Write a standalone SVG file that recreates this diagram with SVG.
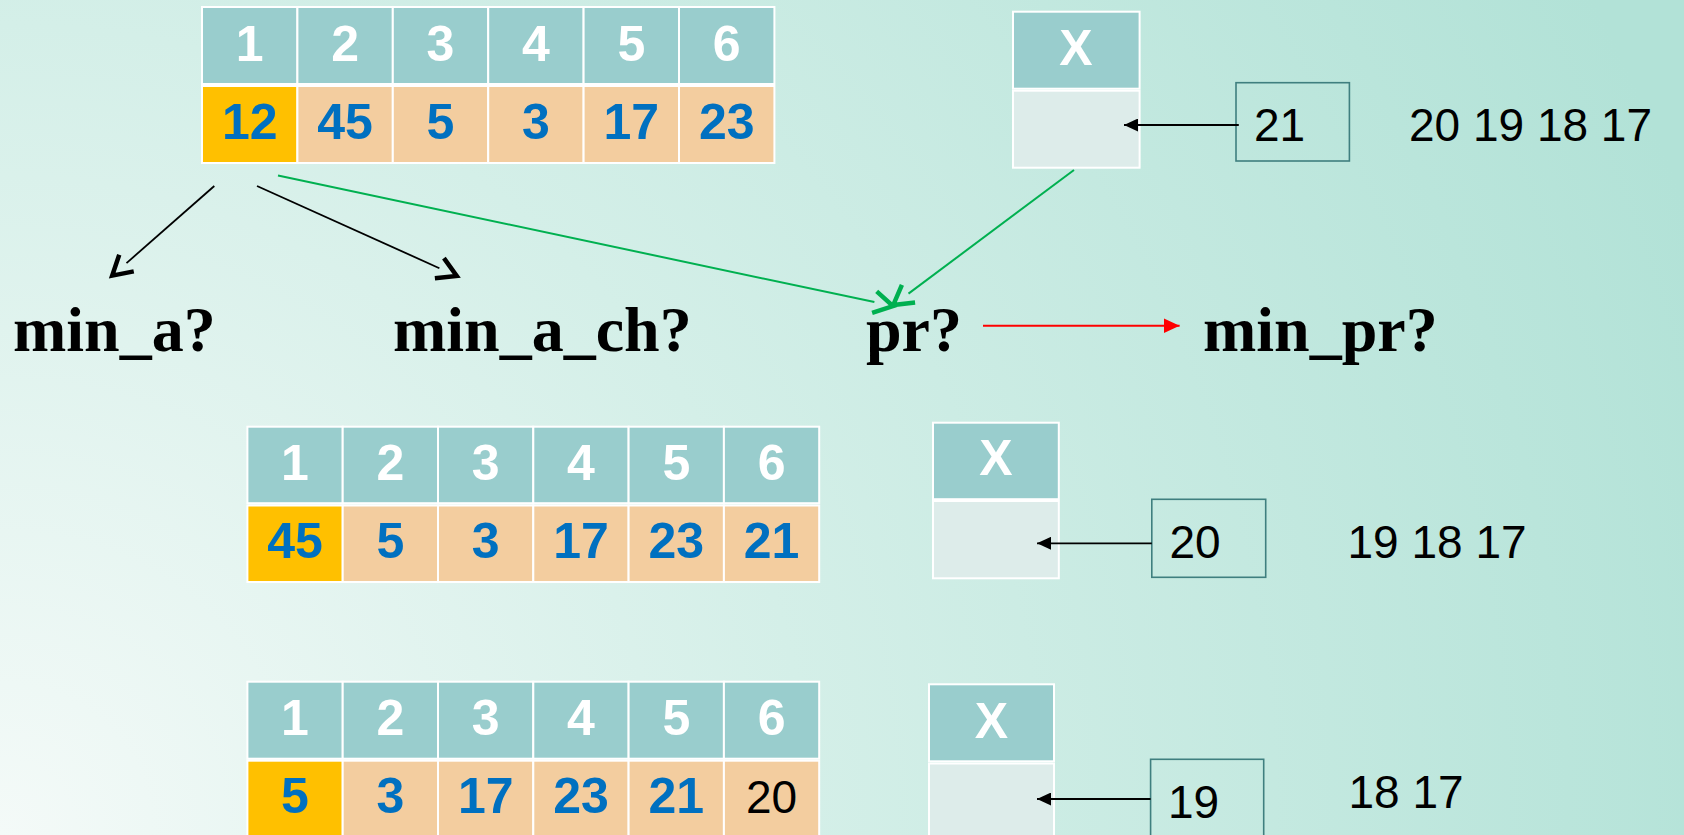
<svg xmlns="http://www.w3.org/2000/svg" width="1684" height="835" viewBox="0 0 1684 835">
<defs>
<radialGradient id="bg" gradientUnits="userSpaceOnUse" cx="0" cy="835" r="1800">
<stop offset="0" stop-color="#F4FAF8"/>
<stop offset="0.45" stop-color="#D4EFE8"/>
<stop offset="1" stop-color="#B2E2D7"/>
</radialGradient>
<marker id="chevBlack" viewBox="-5 -5 32 32" markerUnits="userSpaceOnUse" markerWidth="32" markerHeight="32" refX="0" refY="11" orient="auto">
<path d="M0,0 L19,11 L0,22" fill="none" stroke="#000" stroke-width="4.5"/>
</marker>
<marker id="chevGreen" viewBox="-5 -5 32 32" markerUnits="userSpaceOnUse" markerWidth="32" markerHeight="32" refX="0" refY="11" orient="auto">
<path d="M0,0 L19,11 L0,22" fill="none" stroke="#00B050" stroke-width="4.5"/>
</marker>
<marker id="triBlack" viewBox="0 0 14 13" markerUnits="userSpaceOnUse" markerWidth="14" markerHeight="13" refX="14" refY="6.5" orient="auto">
<path d="M0,0 L14,6.5 L0,13 z" fill="#000"/>
</marker>
<marker id="triRed" viewBox="0 0 16 15" markerUnits="userSpaceOnUse" markerWidth="16" markerHeight="15" refX="16" refY="7.5" orient="auto">
<path d="M0,0 L16,7.5 L0,15 z" fill="#FF0000"/>
</marker>
</defs>
<style>
.hd{fill:#99CDCD;stroke:#FFFFFF;stroke-width:2}
.dt{fill:#F3CD9F;stroke:#FFFFFF;stroke-width:2}
.gd{fill:#FFC000;stroke:#FFFFFF;stroke-width:2}
.xd{fill:#DDECEA;stroke:#FFFFFF;stroke-width:2}
.vb{fill:none;stroke:#3F7F7F;stroke-width:1.6}
.ht{font-family:"Liberation Sans",Arial,sans-serif;font-weight:bold;font-size:50px;fill:#FFFFFF;text-anchor:middle}
.bt{font-family:"Liberation Sans",Arial,sans-serif;font-weight:bold;font-size:50px;fill:#0070C0;text-anchor:middle}
.nt{font-family:"Liberation Sans",Arial,sans-serif;font-size:46px;fill:#000000}
.lb{font-family:"Liberation Serif","Times New Roman",serif;font-weight:bold;font-size:64px;fill:#000000}
.cb{fill:none;stroke:#000;stroke-width:1.8}
.cg{fill:none;stroke:#00B050;stroke-width:2}
</style>
<rect x="0" y="0" width="1684" height="835" fill="url(#bg)"/>

<g id="table1">
<rect class="hd" x="202" y="7" width="95.4" height="77"/>
<rect class="hd" x="297.4" y="7" width="95.4" height="77"/>
<rect class="hd" x="392.8" y="7" width="95.4" height="77"/>
<rect class="hd" x="488.2" y="7" width="95.4" height="77"/>
<rect class="hd" x="583.6" y="7" width="95.4" height="77"/>
<rect class="hd" x="679" y="7" width="95.4" height="77"/>
<rect class="gd" x="202" y="86" width="95.4" height="77"/>
<rect class="dt" x="297.4" y="86" width="95.4" height="77"/>
<rect class="dt" x="392.8" y="86" width="95.4" height="77"/>
<rect class="dt" x="488.2" y="86" width="95.4" height="77"/>
<rect class="dt" x="583.6" y="86" width="95.4" height="77"/>
<rect class="dt" x="679" y="86" width="95.4" height="77"/>
<text class="ht" x="249.7" y="61">1</text>
<text class="ht" x="345.1" y="61">2</text>
<text class="ht" x="440.5" y="61">3</text>
<text class="ht" x="535.9" y="61">4</text>
<text class="ht" x="631.3" y="61">5</text>
<text class="ht" x="726.7" y="61">6</text>
<text class="bt" x="249.7" y="139">12</text>
<text class="bt" x="345.1" y="139">45</text>
<text class="bt" x="440.5" y="139">5</text>
<text class="bt" x="535.9" y="139">3</text>
<text class="bt" x="631.3" y="139">17</text>
<text class="bt" x="726.7" y="139">23</text>
</g>

<g id="xbox1">
<rect class="hd" x="1013" y="11.7" width="126.6" height="77"/>
<rect class="xd" x="1013" y="90.7" width="126.6" height="77"/>
<text class="ht" x="1076" y="65">X</text>
</g>
<g id="val1">
<rect class="vb" x="1236" y="82.7" width="113.4" height="78.3"/>
<text class="nt" x="1254" y="140.7">21</text>
</g>
<g id="rest1"><text class="nt" x="1409" y="140.7">20 19 18 17</text></g>

<g id="label_min_a"><text class="lb" x="13" y="351">min_a?</text></g>
<g id="label_min_a_ch"><text class="lb" x="393" y="351">min_a_ch?</text></g>
<g id="label_pr"><text class="lb" x="866" y="351">pr?</text></g>
<g id="label_min_pr"><text class="lb" x="1203" y="351">min_pr?</text></g>

<g id="table2">
<rect class="hd" x="247.4" y="426.7" width="95.3" height="76.5"/>
<rect class="hd" x="342.7" y="426.7" width="95.3" height="76.5"/>
<rect class="hd" x="438" y="426.7" width="95.3" height="76.5"/>
<rect class="hd" x="533.3" y="426.7" width="95.3" height="76.5"/>
<rect class="hd" x="628.6" y="426.7" width="95.3" height="76.5"/>
<rect class="hd" x="723.9" y="426.7" width="95.3" height="76.5"/>
<rect class="gd" x="247.4" y="505.5" width="95.3" height="76.5"/>
<rect class="dt" x="342.7" y="505.5" width="95.3" height="76.5"/>
<rect class="dt" x="438" y="505.5" width="95.3" height="76.5"/>
<rect class="dt" x="533.3" y="505.5" width="95.3" height="76.5"/>
<rect class="dt" x="628.6" y="505.5" width="95.3" height="76.5"/>
<rect class="dt" x="723.9" y="505.5" width="95.3" height="76.5"/>
<text class="ht" x="295" y="480">1</text>
<text class="ht" x="390.4" y="480">2</text>
<text class="ht" x="485.7" y="480">3</text>
<text class="ht" x="581" y="480">4</text>
<text class="ht" x="676.3" y="480">5</text>
<text class="ht" x="771.6" y="480">6</text>
<text class="bt" x="295" y="558">45</text>
<text class="bt" x="390.4" y="558">5</text>
<text class="bt" x="485.7" y="558">3</text>
<text class="bt" x="581" y="558">17</text>
<text class="bt" x="676.3" y="558">23</text>
<text class="bt" x="771.6" y="558">21</text>
</g>

<g id="xbox2">
<rect class="hd" x="933" y="422.7" width="125.8" height="76.5"/>
<rect class="xd" x="933" y="501" width="125.8" height="77.3"/>
<text class="ht" x="995.9" y="475">X</text>
</g>
<g id="val2">
<rect class="vb" x="1151.8" y="499.3" width="113.9" height="78"/>
<text class="nt" x="1169.5" y="558.3">20</text>
</g>
<g id="rest2"><text class="nt" x="1347.5" y="558.3">19 18 17</text></g>

<g id="table3">
<rect class="hd" x="247.4" y="681.7" width="95.3" height="77"/>
<rect class="hd" x="342.7" y="681.7" width="95.3" height="77"/>
<rect class="hd" x="438" y="681.7" width="95.3" height="77"/>
<rect class="hd" x="533.3" y="681.7" width="95.3" height="77"/>
<rect class="hd" x="628.6" y="681.7" width="95.3" height="77"/>
<rect class="hd" x="723.9" y="681.7" width="95.3" height="77"/>
<rect class="gd" x="247.4" y="760.7" width="95.3" height="80"/>
<rect class="dt" x="342.7" y="760.7" width="95.3" height="80"/>
<rect class="dt" x="438" y="760.7" width="95.3" height="80"/>
<rect class="dt" x="533.3" y="760.7" width="95.3" height="80"/>
<rect class="dt" x="628.6" y="760.7" width="95.3" height="80"/>
<rect class="dt" x="723.9" y="760.7" width="95.3" height="80"/>
<text class="ht" x="295" y="735">1</text>
<text class="ht" x="390.4" y="735">2</text>
<text class="ht" x="485.7" y="735">3</text>
<text class="ht" x="581" y="735">4</text>
<text class="ht" x="676.3" y="735">5</text>
<text class="ht" x="771.6" y="735">6</text>
<text class="bt" x="295" y="813">5</text>
<text class="bt" x="390.4" y="813">3</text>
<text class="bt" x="485.7" y="813">17</text>
<text class="bt" x="581" y="813">23</text>
<text class="bt" x="676.3" y="813">21</text>
<text class="nt" x="771.6" y="813" text-anchor="middle">20</text>
</g>

<g id="xbox3">
<rect class="hd" x="929" y="684.3" width="125" height="77"/>
<rect class="xd" x="929" y="763.5" width="125" height="80"/>
<text class="ht" x="991.5" y="738">X</text>
</g>
<g id="val3">
<rect class="vb" x="1150.6" y="759.3" width="113.1" height="84"/>
<text class="nt" x="1168" y="818">19</text>
</g>
<g id="rest3"><text class="nt" x="1348.5" y="808">18 17</text></g>

<g id="connectors">
<line class="cb" x1="1238.8" y1="125" x2="1124" y2="125" marker-end="url(#triBlack)"/>
<line class="cb" x1="1151.8" y1="543.3" x2="1037" y2="543.3" marker-end="url(#triBlack)"/>
<line class="cb" x1="1150.6" y1="799" x2="1037" y2="799" marker-end="url(#triBlack)"/>
<line class="cb" x1="214.3" y1="186" x2="126.5" y2="263.1" marker-end="url(#chevBlack)"/>
<line class="cb" x1="257" y1="186" x2="439.4" y2="268.2" marker-end="url(#chevBlack)"/>
<line class="cg" x1="278" y1="175.5" x2="874.4" y2="302.1" marker-end="url(#chevGreen)"/>
<line class="cg" x1="1074" y1="170" x2="908.5" y2="293.6" marker-end="url(#chevGreen)"/>
<line x1="983" y1="325.7" x2="1179.6" y2="325.7" stroke="#FF0000" stroke-width="2" marker-end="url(#triRed)"/>
</g>
</svg>
